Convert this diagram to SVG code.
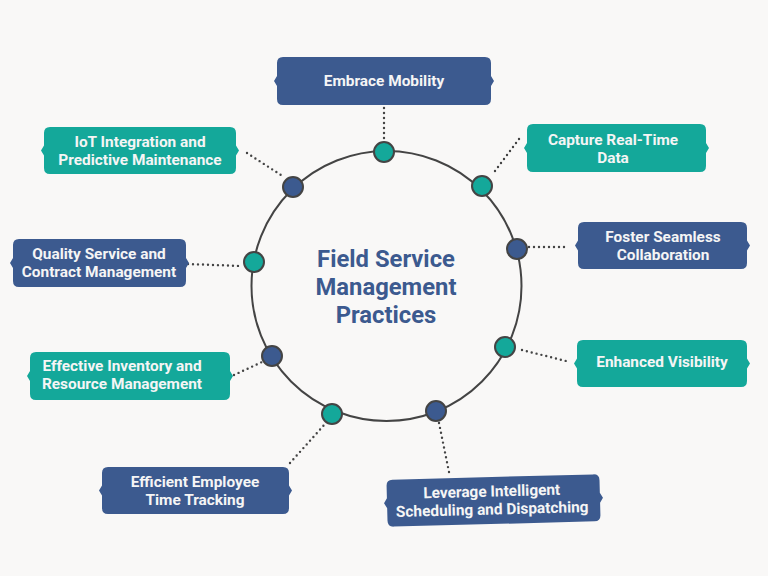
<svg xmlns="http://www.w3.org/2000/svg" width="768" height="576" viewBox="0 0 768 576">
<style>
.bg{fill:#f9f8f7}
.blue{fill:#3c5a8f}
.teal{fill:#14a89a}
.lbl{font-family:Roboto,"Liberation Sans",sans-serif;font-weight:bold;font-size:15.4px;fill:#f5f5f5;text-anchor:middle;dominant-baseline:central}
.title{font-family:Roboto,"Liberation Sans",sans-serif;font-weight:bold;font-size:23.8px;fill:#3c5a8f;text-anchor:middle;dominant-baseline:central}
.dot{stroke:#444;stroke-width:2}
.conn{stroke:#444;stroke-width:2.4;stroke-dasharray:0 5;stroke-linecap:round;fill:none}
</style>
<rect class="bg" x="0" y="0" width="768" height="576"/>
<g id="connectors">
<line class="conn" x1="384" y1="108" x2="384" y2="141"/>
<line class="conn" x1="247" y1="153" x2="284" y2="177"/>
<line class="conn" x1="519" y1="139" x2="492" y2="175"/>
<line class="conn" x1="529" y1="247" x2="568" y2="247"/>
<line class="conn" x1="522" y1="350" x2="570" y2="362"/>
<line class="conn" x1="188" y1="264" x2="241" y2="266"/>
<line class="conn" x1="234" y1="375" x2="262" y2="362"/>
<line class="conn" x1="290" y1="463" x2="325" y2="424"/>
<line class="conn" x1="439" y1="423" x2="449" y2="472"/>
</g>
<g id="center">
<circle cx="386.5" cy="286" r="135" fill="none" stroke="#444" stroke-width="2"/>
<text class="title" x="386" y="259">Field Service</text>
<text class="title" x="386" y="287">Management</text>
<text class="title" x="386" y="315">Practices</text>
</g>
<g id="dots">
<circle class="dot teal" cx="384" cy="152" r="10"/>
<circle class="dot blue" cx="293" cy="187" r="10"/>
<circle class="dot teal" cx="482" cy="186" r="10"/>
<circle class="dot blue" cx="517" cy="249" r="10"/>
<circle class="dot teal" cx="254" cy="262" r="10"/>
<circle class="dot teal" cx="505" cy="347" r="10"/>
<circle class="dot blue" cx="272" cy="356" r="10"/>
<circle class="dot teal" cx="332" cy="414" r="10"/>
<circle class="dot blue" cx="436" cy="411" r="10"/>
</g>
<g id="embrace-mobility">
<path class="blue" d="M283,57 H485 Q491,57 491,63 V76 L494,81 L491,86 V99 Q491,105 485,105 H283 Q277,105 277,99 V86 L274,81 L277,76 V63 Q277,57 283,57 Z"/>
<text class="lbl" x="384" y="81">Embrace Mobility</text>
</g>
<g id="iot-integration">
<path class="teal" d="M50,127 H230 Q236,127 236,133 V145.5 L239,150.5 L236,155.5 V168 Q236,174 230,174 H50 Q44,174 44,168 V155.5 L41,150.5 L44,145.5 V133 Q44,127 50,127 Z"/>
<text class="lbl" x="140" y="141.5">IoT Integration and</text>
<text class="lbl" x="140" y="159.5">Predictive Maintenance</text>
</g>
<g id="capture-real-time">
<path class="teal" d="M533,124 H700 Q706,124 706,130 V143 L709,148 L706,153 V166 Q706,172 700,172 H533 Q527,172 527,166 V153 L524,148 L527,143 V130 Q527,124 533,124 Z"/>
<text class="lbl" x="613" y="139.5">Capture Real-Time</text>
<text class="lbl" x="613" y="157.5">Data</text>
</g>
<g id="foster-collaboration">
<path class="blue" d="M584,222 H741 Q747,222 747,228 V240.5 L750,245.5 L747,250.5 V263 Q747,269 741,269 H584 Q578,269 578,263 V250.5 L575,245.5 L578,240.5 V228 Q578,222 584,222 Z"/>
<text class="lbl" x="663" y="236.5">Foster Seamless</text>
<text class="lbl" x="663" y="254.5">Collaboration</text>
</g>
<g id="enhanced-visibility">
<path class="teal" d="M583,340 H741 Q747,340 747,346 V358.5 L750,363.5 L747,368.5 V381 Q747,387 741,387 H583 Q577,387 577,381 V368.5 L574,363.5 L577,358.5 V346 Q577,340 583,340 Z"/>
<text class="lbl" x="662" y="362">Enhanced Visibility</text>
</g>
<g id="quality-service">
<path class="blue" d="M19,239 H180 Q186,239 186,245 V258 L189,263 L186,268 V281 Q186,287 180,287 H19 Q13,287 13,281 V268 L10,263 L13,258 V245 Q13,239 19,239 Z"/>
<text class="lbl" x="99" y="253.5">Quality Service and</text>
<text class="lbl" x="99" y="271.5">Contract Management</text>
</g>
<g id="effective-inventory">
<path class="teal" d="M36,352 H224 Q230,352 230,358 V371 L233,376 L230,381 V394 Q230,400 224,400 H36 Q30,400 30,394 V381 L27,376 L30,371 V358 Q30,352 36,352 Z"/>
<text class="lbl" x="122" y="365.5">Effective Inventory and</text>
<text class="lbl" x="122" y="383.5">Resource Management</text>
</g>
<g id="efficient-employee">
<path class="blue" d="M108,467 H283 Q289,467 289,473 V485.5 L292,490.5 L289,495.5 V508 Q289,514 283,514 H108 Q102,514 102,508 V495.5 L99,490.5 L102,485.5 V473 Q102,467 108,467 Z"/>
<text class="lbl" x="195" y="481.5">Efficient Employee</text>
<text class="lbl" x="195" y="499.5">Time Tracking</text>
</g>
<g id="leverage-scheduling" transform="rotate(-1.5 493.5 500.5)">
<path class="blue" d="M393,477 H594 Q600,477 600,483 V495.5 L603,500.5 L600,505.5 V518 Q600,524 594,524 H393 Q387,524 387,518 V505.5 L384,500.5 L387,495.5 V483 Q387,477 393,477 Z"/>
<text class="lbl" x="492" y="491.5">Leverage Intelligent</text>
<text class="lbl" x="492" y="509.5">Scheduling and Dispatching</text>
</g>
</svg>
